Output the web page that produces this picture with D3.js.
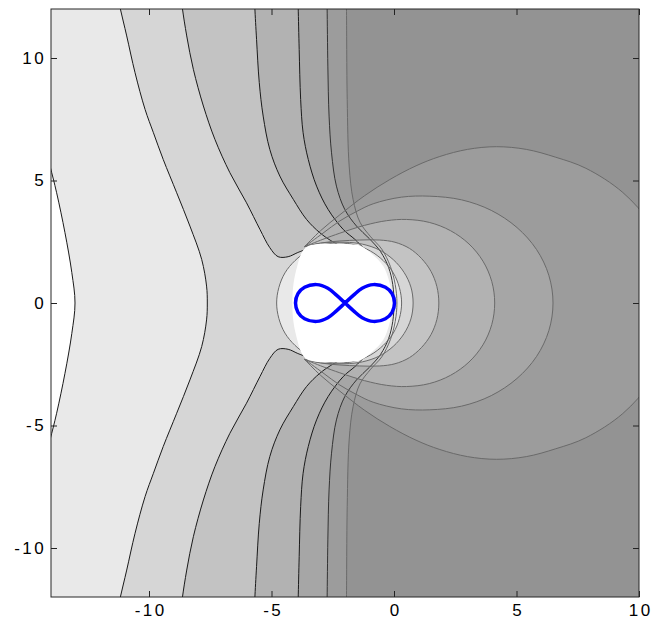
<!DOCTYPE html>
<html><head><meta charset="utf-8">
<script src="https://cdn.jsdelivr.net/npm/d3@7"></script>
<style>
html,body{margin:0;padding:0;background:#fff;}
svg{display:block;}
.tick text{font-family:"Liberation Sans",Arial,sans-serif;font-size:17px;letter-spacing:2.4px;fill:#000;}
</style></head>
<body>
<script>
// ---- data (upper halves; the picture is mirror-symmetric about y = 0) ----
const xTicks = [-10, -5, 0, 5, 10];
const yTicks = [-10, -5, 0, 5, 10];
const levelColors = ['#ffffff','#e9e9e9','#d6d6d6','#c3c3c3','#b2b2b2','#a6a6a6','#9c9c9c','#939393'];

// "vertical" contour family (top edge -> y=0)
const curveA = [[-14.3,6.6],[-14.04,5.59],[-13.77,4.50],[-13.43,2.87],[-13.15,1.24],[-13.02,0]];
const curveB = [[-11.3,12.6],[-11.18,12.05],[-10.91,10.9],[-10.57,9.4],[-10.16,7.9],[-9.82,6.95],[-9.42,5.86],[-8.87,4.5],[-8.33,3.14],[-7.85,1.78],[-7.65,0.69],[-7.62,0]];
const curveC = [[-8.7,12.6],[-8.64,12.05],[-8.46,10.9],[-8.19,9.54],[-7.78,8.04],[-7.31,6.68],[-6.70,5.32],[-6.02,4.09],[-5.47,3.0],[-5.07,2.26],[-4.73,1.89],[-4.32,1.89],[-3.95,2.05],[-3.7,2.15]];
const curveD = [[-5.70,12.6],[-5.68,12.05],[-5.61,10.76],[-5.50,9.0],[-5.34,7.63],[-5.07,6.27],[-4.66,5.18],[-4.11,4.23],[-3.57,3.41],[-3.03,2.87],[-2.6,2.56],[-2.25,2.36]];
const curveE = [[-3.92,12.6],[-3.91,12.05],[-3.87,10.35],[-3.81,8.31],[-3.71,6.95],[-3.50,5.86],[-3.16,4.77],[-2.69,3.82],[-2.07,3.0],[-1.6,2.6],[-1.25,2.25]];
const curveF = [[-2.74,12.6],[-2.73,12.05],[-2.70,9.67],[-2.65,7.63],[-2.55,6.13],[-2.35,4.77],[-2.01,3.82],[-1.53,3.14],[-1.0,2.62],[-0.55,2.1],[-0.22,1.45],[-0.05,0.75],[0.0,0]];
const curveG = [[-1.95,12.6],[-1.94,12.05],[-1.91,8.31],[-1.83,5.59],[-1.67,4.23],[-1.39,3.3],[-0.95,2.7],[-0.5,2.2],[-0.15,1.5],[0.05,0.75],[0.12,0]];

// "oval" contour family (from the meeting point near the disk, round to y=0)
const oval1 = [[-3.65,2.3],[-3.0,2.95],[-2.21,3.6],[-1.2,4.38],[-0.17,5.04],[0.9,5.6],[1.87,5.98],[3.0,6.27],[4.18,6.38],[5.4,6.27],[6.6,5.95],[7.83,5.5],[9.34,4.51],[10.5,3.19],[11.23,1.65],[11.48,0]];
const oval2 = [[-3.65,2.3],[-2.9,2.85],[-2.21,3.35],[-1.5,3.75],[-0.85,4.05],[0.3,4.32],[1.46,4.36],[2.76,4.21],[3.97,3.78],[5.02,3.08],[5.82,2.18],[6.32,1.13],[6.49,0]];
const oval3 = [[-3.65,2.3],[-2.9,2.6],[-2.21,2.85],[-1.2,3.17],[-0.3,3.36],[0.51,3.41],[1.44,3.29],[2.31,2.95],[3.06,2.41],[3.63,1.71],[3.99,0.88],[4.11,0]];
const oval4 = [[-3.65,2.3],[-2.9,2.46],[-2.21,2.53],[-1.4,2.57],[-0.58,2.57],[0.04,2.48],[0.63,2.23],[1.12,1.82],[1.51,1.29],[1.75,0.67],[1.83,0]];
const oval5 = [[-3.65,2.3],[-3.0,2.44],[-2.0,2.48],[-1.28,2.4],[-0.61,2.17],[-0.03,1.77],[0.41,1.25],[0.69,0.65],[0.78,0]];
const oval6 = [[-4.79,0],[-4.70,0.63],[-4.45,1.23],[-4.04,1.73],[-3.52,2.12],[-2.9,2.37],[-2.24,2.45],[-1.58,2.37],[-0.96,2.12],[-0.44,1.73],[-0.03,1.23],[0.22,0.63],[0.31,0]];

// white disk round the curve
const disk = [[-4.15,0],[-4.1,0.8],[-3.95,1.5],[-3.77,2.05],[-3.55,2.3],[-3.2,2.4],[-2.5,2.42],[-1.8,2.4],[-1.39,2.35],[-0.9,2.0],[-0.44,1.51],[-0.2,0.9],[-0.08,0.3],[-0.05,0]];

// figure-eight curve (blue), read point by point
const eight = [[0.02,0],[-0.08,0.38],[-0.35,0.64],[-0.85,0.75],[-1.3,0.6],[-1.65,0.32],[-2,0],[-2.35,-0.32],[-2.7,-0.6],[-3.15,-0.75],[-3.65,-0.64],[-3.92,-0.38],[-4.02,0],[-3.92,0.38],[-3.65,0.64],[-3.15,0.75],[-2.7,0.6],[-2.35,0.32],[-2,0],[-1.65,-0.32],[-1.3,-0.6],[-0.85,-0.75],[-0.35,-0.64],[-0.08,-0.38]];

// ---- drawing ----
const W = 652, H = 629;
const x = d3.scaleLinear([-14, 10], [51, 639]);
const y = d3.scaleLinear([-12, 12], [597, 9]);

const svg = d3.select('body').append('svg').attr('width', W).attr('height', H);
svg.append('defs').append('clipPath').attr('id','plot')
  .append('rect').attr('x',x(-14)).attr('y',y(12)).attr('width',x(10)-x(-14)).attr('height',y(-12)-y(12));

const g = svg.append('g').attr('clip-path','url(#plot)');
const smooth = d3.line().x(d=>x(d[0])).y(d=>y(d[1])).curve(d3.curveCatmullRom.alpha(0.5));
const smoothClosed = d3.line().x(d=>x(d[0])).y(d=>y(d[1])).curve(d3.curveCatmullRomClosed.alpha(0.5));
const mirror = pts => pts.map(p=>[p[0],-p[1]]);
// full symmetric path: upper (top->axis) then mirrored lower (axis->bottom)
const full = pts => { const lo = mirror(pts).reverse(); return pts.concat(lo[0][1]===0 ? lo.slice(1) : lo); };
const P = p => `${x(p[0])},${y(p[1])}`;
const cont = s => s.replace(/^M/,'L');

// background = darkest level
g.append('rect').attr('x',0).attr('y',0).attr('width',W).attr('height',H).attr('fill',levelColors[7]);

function leftRegion(pts, throughDisk){
  let d;
  if (throughDisk){
    const lo = mirror(pts).reverse();
    d = smooth(pts) + 'L' + P([-2.6,0]) + cont(smooth(lo));
  } else d = smooth(full(pts));
  return d + 'L' + P([-16,-14]) + 'L' + P([-16,14]) + 'Z';
}
function ovalRegion(pts){
  return smooth(full(pts)) + 'L' + P([-3.0,-1.2]) + 'L' + P([-2.8,0]) + 'L' + P([-3.0,1.2]) + 'Z';
}
const closedPts = pts => { const f = full(pts); f.pop(); return f; };

const vert = [
  {pts:curveG, disk:false, lvl:6, stroke:'#6a6a6a'},
  {pts:curveF, disk:false, lvl:5, stroke:'#333'},
  {pts:curveE, disk:true,  lvl:4, stroke:'#1a1a1a'},
  {pts:curveD, disk:true,  lvl:3, stroke:'#1a1a1a'},
  {pts:curveC, disk:true,  lvl:2, stroke:'#1a1a1a'},
  {pts:curveB, disk:false, lvl:1, stroke:'#1a1a1a'},
  {pts:curveA, disk:false, lvl:0, stroke:'#1a1a1a'}
];
const ovals = [
  {pts:oval1, lvl:6}, {pts:oval2, lvl:5}, {pts:oval3, lvl:4},
  {pts:oval4, lvl:3}, {pts:oval5, lvl:2}
];

// fill from darkest to lightest so every point keeps the lightest band covering it
for (let lvl = 6; lvl >= 0; lvl--){
  vert.filter(v=>v.lvl===lvl).forEach(v=>{
    g.append('path').attr('d', leftRegion(v.pts, v.disk)).attr('fill', levelColors[lvl]);
  });
  ovals.filter(o=>o.lvl===lvl).forEach(o=>{
    g.append('path').attr('d', ovalRegion(o.pts)).attr('fill', levelColors[lvl]);
  });
  if (lvl===1){
    g.append('path').attr('d', smoothClosed(closedPts(oval6))).attr('fill', levelColors[1]);
  }
}

// contour lines
vert.forEach(v=>{
  if (v.disk){
    g.append('path').attr('d', smooth(v.pts)).attr('fill','none').attr('stroke',v.stroke).attr('stroke-width',1);
    g.append('path').attr('d', smooth(mirror(v.pts))).attr('fill','none').attr('stroke',v.stroke).attr('stroke-width',1);
  } else {
    g.append('path').attr('d', smooth(full(v.pts))).attr('fill','none').attr('stroke',v.stroke).attr('stroke-width',1);
  }
});
ovals.forEach(o=>{
  g.append('path').attr('d', smooth(full(o.pts))).attr('fill','none').attr('stroke','#6a6a6a').attr('stroke-width',1);
});
g.append('path').attr('d', smoothClosed(closedPts(oval6))).attr('fill','none').attr('stroke','#6a6a6a').attr('stroke-width',1);

// white disk
g.append('path').attr('d', smoothClosed(closedPts(disk))).attr('fill','#fff');

// figure-eight
g.append('path').attr('d', smoothClosed(eight)).attr('fill','none').attr('stroke','#0000ff').attr('stroke-width',3.5).attr('stroke-linejoin','round');

// axes
const fmt = d => String(d);
const axB = svg.append('g').attr('transform',`translate(0,${y(-12)})`)
  .call(d3.axisBottom(x).tickValues(xTicks).tickSize(-6).tickSizeOuter(0).tickPadding(7).tickFormat(fmt));
const axL = svg.append('g').attr('transform',`translate(${x(-14)},0)`)
  .call(d3.axisLeft(y).tickValues(yTicks).tickSize(-6).tickSizeOuter(0).tickPadding(5).tickFormat(fmt));
const axT = svg.append('g').attr('transform',`translate(0,${y(12)})`)
  .call(d3.axisTop(x).tickValues(xTicks).tickSize(-6).tickSizeOuter(0).tickFormat(''));
const axR = svg.append('g').attr('transform',`translate(${x(10)},0)`)
  .call(d3.axisRight(y).tickValues(yTicks).tickSize(-6).tickSizeOuter(0).tickFormat(''));
[axB,axL,axT,axR].forEach(a=>{ a.select('.domain').remove(); a.selectAll('.tick line').attr('stroke','#222'); });
axB.selectAll('.tick text').attr('dx','1.2px');
svg.append('rect').attr('x',x(-14)).attr('y',y(12)).attr('width',x(10)-x(-14)).attr('height',y(-12)-y(12))
  .attr('fill','none').attr('stroke','#262626').attr('stroke-width',1);
</script>
</body></html>
